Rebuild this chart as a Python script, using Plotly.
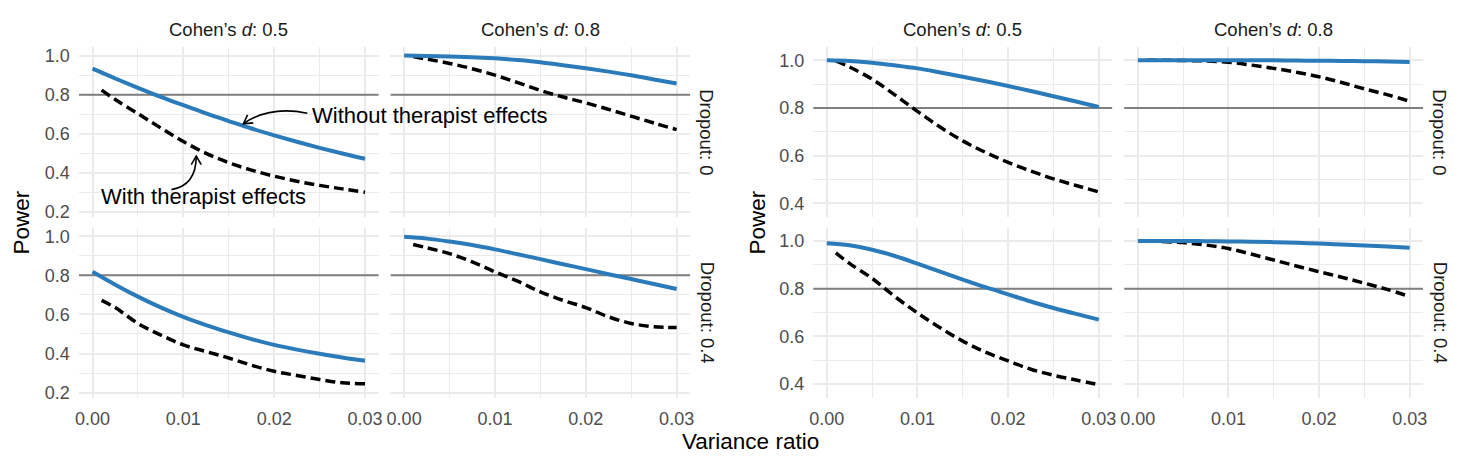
import math
import plotly.graph_objects as go

W, H = 1475, 471
FONT = "Liberation Sans, Arial, sans-serif"

# ---------------- data ----------------
vr_without = [0.0, 0.0025, 0.005, 0.0075, 0.01, 0.0125, 0.015, 0.0175, 0.02, 0.0225, 0.025, 0.0275, 0.03]
vr_with = [0.001, 0.0025, 0.005, 0.0075, 0.01, 0.0125, 0.015, 0.0175, 0.02, 0.0225, 0.025, 0.0275, 0.03]

cohens_d = ["0.5", "0.8"]
dropout = ["0", "0.4"]

# left block
a_d05_do0_without = [0.933, 0.883, 0.835, 0.789, 0.746, 0.704, 0.665, 0.627, 0.592, 0.559, 0.528, 0.499, 0.472]
a_d05_do0_with = [0.823, 0.775, 0.703, 0.630, 0.560, 0.500, 0.452, 0.414, 0.383, 0.357, 0.336, 0.318, 0.301]
a_d08_do0_without = [1.0, 0.998, 0.995, 0.991, 0.986, 0.977, 0.966, 0.951, 0.935, 0.918, 0.899, 0.878, 0.857]
a_d08_do0_with = [0.995, 0.982, 0.960, 0.933, 0.900, 0.862, 0.822, 0.788, 0.758, 0.725, 0.690, 0.655, 0.621]
a_d05_do04_without = [0.818, 0.752, 0.691, 0.636, 0.587, 0.545, 0.508, 0.474, 0.444, 0.420, 0.399, 0.380, 0.363]
a_d05_do04_with = [0.672, 0.635, 0.554, 0.495, 0.444, 0.410, 0.377, 0.340, 0.309, 0.288, 0.267, 0.250, 0.245]
a_d08_do04_without = [0.997, 0.988, 0.973, 0.955, 0.933, 0.908, 0.883, 0.857, 0.832, 0.806, 0.781, 0.756, 0.730]
a_d08_do04_with = [0.958, 0.941, 0.911, 0.869, 0.818, 0.770, 0.716, 0.672, 0.635, 0.588, 0.554, 0.537, 0.533]

# right block
b_d05_do0_without = [1.0, 0.997, 0.990, 0.979, 0.966, 0.949, 0.931, 0.912, 0.892, 0.871, 0.849, 0.827, 0.804]
b_d05_do0_with = [0.997, 0.972, 0.921, 0.855, 0.786, 0.720, 0.662, 0.614, 0.572, 0.536, 0.503, 0.475, 0.448]
b_d08_do0_without = [1.0, 1.0, 1.0, 1.0, 1.0, 1.0, 1.0, 0.999, 0.998, 0.997, 0.996, 0.995, 0.993]
b_d08_do0_with = [1.0, 1.0, 0.999, 0.997, 0.992, 0.980, 0.966, 0.950, 0.931, 0.907, 0.880, 0.856, 0.828]
b_d05_do04_without = [0.990, 0.982, 0.963, 0.937, 0.905, 0.871, 0.838, 0.806, 0.776, 0.746, 0.719, 0.694, 0.670]
b_d05_do04_with = [0.950, 0.906, 0.843, 0.767, 0.698, 0.636, 0.580, 0.534, 0.497, 0.462, 0.437, 0.417, 0.397]
b_d08_do04_without = [1.0, 1.0, 1.0, 0.999, 0.998, 0.997, 0.995, 0.992, 0.989, 0.985, 0.981, 0.977, 0.972]
b_d08_do04_with = [1.0, 0.998, 0.993, 0.983, 0.968, 0.945, 0.920, 0.895, 0.871, 0.848, 0.823, 0.797, 0.767]

power_target = 0.8

# ---------------- layout geometry (pixels) ----------------
cols_px = {"left": [(75.3, 376.7), (388.6, 690.0)], "right": [(813.6, 1114.4), (1126.3, 1427.0)]}
rows_px = [(47.0, 219.0), (230.0, 402.0)]
x_range = [-0.0015, 0.0315]
y_ranges = {"left": [0.173, 1.042], "right": [0.342, 1.054]}

panels = [
    ("left", 0, 0, a_d05_do0_without, a_d05_do0_with),
    ("left", 0, 1, a_d08_do0_without, a_d08_do0_with),
    ("left", 1, 0, a_d05_do04_without, a_d05_do04_with),
    ("left", 1, 1, a_d08_do04_without, a_d08_do04_with),
    ("right", 0, 0, b_d05_do0_without, b_d05_do0_with),
    ("right", 0, 1, b_d08_do0_without, b_d08_do0_with),
    ("right", 1, 0, b_d05_do04_without, b_d05_do04_with),
    ("right", 1, 1, b_d08_do04_without, b_d08_do04_with),
]

BLUE = "#2b7bba"
GRID = "#EBEBEB"
TICKSIZE = 18

fig = go.Figure()
layout = {}
shapes = []
annotations = []
axinfo = {}

for i, (grid, r, c, y_wo, y_w) in enumerate(panels, start=1):
    sfx = "" if i == 1 else str(i)
    xl, xr = cols_px[grid][c]
    yt, yb = rows_px[r]
    xdom = [xl / W, xr / W]
    ydom = [1 - yb / H, 1 - yt / H]
    yr = y_ranges[grid]
    axinfo[i] = (xdom, ydom, x_range, yr)
    layout["xaxis" + sfx] = dict(
        domain=xdom, range=x_range, anchor="y" + sfx, tick0=0, dtick=0.01,
        tickformat=".2f", showticklabels=(r == 1), ticks="", ticklabelstandoff=8,
        showgrid=True, gridcolor=GRID, gridwidth=2, zeroline=False, showline=False,
        minor=dict(dtick=0.005, tick0=0, showgrid=True, gridcolor=GRID, gridwidth=1),
        tickfont=dict(family=FONT, size=TICKSIZE, color="#4D4D4D"),
    )
    layout["yaxis" + sfx] = dict(
        domain=ydom, range=yr, anchor="x" + sfx, tick0=0, dtick=0.2,
        tickformat=".1f", showticklabels=(c == 0), ticks="", ticklabelstandoff=8,
        showgrid=True, gridcolor=GRID, gridwidth=2, zeroline=False, showline=False,
        minor=dict(dtick=0.1, tick0=0, showgrid=True, gridcolor=GRID, gridwidth=1),
        tickfont=dict(family=FONT, size=TICKSIZE, color="#4D4D4D"),
    )
    # reference line at target power (spans the full panel)
    fig.add_trace(go.Scatter(x=x_range, y=[power_target, power_target], mode="lines",
                             xaxis="x" + sfx, yaxis="y" + sfx,
                             line=dict(color="#7F7F7F", width=2),
                             showlegend=False, hoverinfo="skip"))
    fig.add_trace(go.Scatter(x=vr_with, y=y_w, mode="lines", xaxis="x" + sfx, yaxis="y" + sfx,
                             line=dict(color="black", width=3.5, dash="10px,5px", shape="spline", smoothing=1.0),
                             showlegend=False, hoverinfo="skip"))
    fig.add_trace(go.Scatter(x=vr_without, y=y_wo, mode="lines", xaxis="x" + sfx, yaxis="y" + sfx,
                             line=dict(color=BLUE, width=4, shape="spline", smoothing=1.0),
                             showlegend=False, hoverinfo="skip"))
    # strips
    if r == 0:
        annotations.append(dict(text="Cohen’s <i>d</i>: " + cohens_d[c], xref="paper", yref="paper",
                                x=(xdom[0] + xdom[1]) / 2, y=1 - 29 / H, showarrow=False,
                                xanchor="center", yanchor="middle",
                                font=dict(family=FONT, size=18.5, color="#1A1A1A")))
    if c == 1:
        annotations.append(dict(text="Dropout: " + dropout[r], xref="paper", yref="paper",
                                x=(xr + 17) / W, y=(ydom[0] + ydom[1]) / 2, showarrow=False,
                                textangle=90, xanchor="center", yanchor="middle",
                                font=dict(family=FONT, size=18.5, color="#1A1A1A")))

# axis titles
for xpx in (18, 758):
    annotations.append(dict(text="Power", xref="paper", yref="paper", x=xpx / W,
                            y=1 - 224.5 / H, showarrow=False, textangle=-90,
                            xanchor="center", yanchor="middle",
                            font=dict(family=FONT, size=22.5, color="black")))
annotations.append(dict(text="Variance ratio", xref="paper", yref="paper", x=751 / W,
                        y=1 - 446 / H, showarrow=False, xanchor="center", yanchor="middle",
                        font=dict(family=FONT, size=22.5, color="black")))


# ---------- curved annotation arrows (panel 1 data coords) ----------
def to_px(i, x, y):
    xdom, ydom, xr, yr = axinfo[i]
    px = W * (xdom[0] + (x - xr[0]) / (xr[1] - xr[0]) * (xdom[1] - xdom[0]))
    py = H * (1 - (ydom[0] + (y - yr[0]) / (yr[1] - yr[0]) * (ydom[1] - ydom[0])))
    return px, py


def pp(px, py):
    return f"{px / W:.5f},{1 - py / H:.5f}"


def curved_arrow(i, p0, c, p2):
    a = to_px(i, *p0)
    b = to_px(i, *c)
    t = to_px(i, *p2)
    shapes.append(dict(type="path", xref="paper", yref="paper",
                       path=f"M {pp(*a)} Q {pp(*b)} {pp(*t)}",
                       line=dict(color="black", width=1.6)))
    dx, dy = t[0] - b[0], t[1] - b[1]
    n = math.hypot(dx, dy)
    ux, uy = -dx / n, -dy / n
    L = 10
    arms = []
    for ang in (math.radians(30), math.radians(-30)):
        ax_ = ux * math.cos(ang) - uy * math.sin(ang)
        ay_ = ux * math.sin(ang) + uy * math.cos(ang)
        arms.append((t[0] + L * ax_, t[1] + L * ay_))
    shapes.append(dict(type="path", xref="paper", yref="paper",
                       path=f"M {pp(*arms[0])} L {pp(*t)} L {pp(*arms[1])}",
                       line=dict(color="black", width=1.6)))


label_without = ("Without therapist effects", 0.02398, 0.6918)
label_with = ("With therapist effects", 0.00066, 0.2774)
for txt, lx, ly in (label_without, label_with):
    annotations.append(dict(text=txt, xref="x", yref="y", x=lx, y=ly, showarrow=False,
                            xanchor="left", yanchor="middle",
                            font=dict(family=FONT, size=22, color="black")))

curved_arrow(1, (0.02365, 0.7054), (0.0195, 0.745), (0.01661, 0.6513))
curved_arrow(1, (0.00868, 0.3143), (0.01142, 0.3345), (0.01142, 0.4861))

fig.update_layout(
    width=W, height=H, margin=dict(l=0, r=0, t=0, b=0),
    paper_bgcolor="white", plot_bgcolor="white",
    shapes=shapes, annotations=annotations, showlegend=False,
    **layout,
)

fig.write_html("out.html")
